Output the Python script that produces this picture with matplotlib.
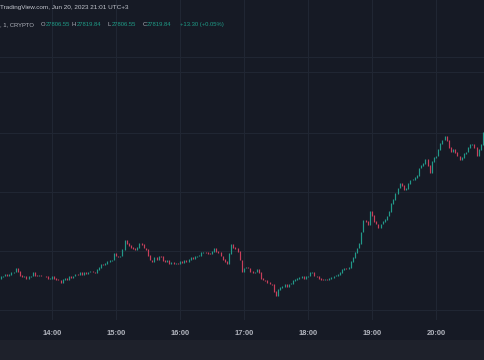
import matplotlib
matplotlib.use("Agg")
import matplotlib.pyplot as plt
from matplotlib.patches import Rectangle
import numpy as np

# ---------------- data ----------------
# 2-minute candles, minutes since 13:00 (UTC+3), starting 13:12
start_minute = 12
step_minutes = 2
first_open = 27135
closes = [
    27140, 27144, 27152, 27148, 27152, 27157, 27161, 27174, 27165, 27148,
    27140, 27144, 27135, 27140, 27144, 27157, 27148, 27144, 27148, 27144,
    27144, 27140, 27135, 27135, 27140, 27135, 27131, 27127, 27118, 27131,
    27135, 27131, 27140, 27138, 27144, 27152, 27150, 27157, 27152, 27157,
    27155, 27161, 27165, 27161, 27159, 27170, 27182, 27195, 27191, 27199,
    27204, 27208, 27212, 27238, 27229, 27225, 27229, 27255, 27293, 27284,
    27272, 27267, 27259, 27255, 27267, 27284, 27276, 27263, 27255, 27233,
    27212, 27204, 27221, 27216, 27229, 27225, 27208, 27204, 27212, 27199,
    27201, 27195, 27199, 27197, 27204, 27202, 27208, 27206, 27216, 27221,
    27219, 27225, 27229, 27233, 27242, 27246, 27242, 27240, 27238, 27250,
    27263, 27250, 27242, 27229, 27216, 27204, 27199, 27238, 27276, 27267,
    27259, 27250, 27212, 27165, 27178, 27182, 27178, 27165, 27157, 27161,
    27170, 27157, 27135, 27127, 27123, 27118, 27110, 27106, 27080, 27059,
    27085, 27097, 27101, 27106, 27101, 27110, 27114, 27123, 27131, 27135,
    27137, 27140, 27135, 27140, 27144, 27157, 27161, 27144, 27140, 27135,
    27131, 27127, 27131, 27127, 27135, 27137, 27144, 27148, 27152, 27157,
    27170, 27178, 27176, 27182, 27204, 27221, 27242, 27263, 27284, 27331,
    27382, 27374, 27361, 27420, 27403, 27374, 27365, 27352, 27365, 27374,
    27386, 27399, 27420, 27454, 27471, 27493, 27518, 27539, 27527, 27510,
    27514, 27539, 27552, 27556, 27561, 27573, 27603, 27612, 27624, 27641,
    27612, 27582, 27629, 27646, 27654, 27680, 27709, 27722, 27739, 27718,
    27692, 27675, 27680, 27667, 27654, 27637, 27646, 27663, 27671, 27692,
    27701, 27705, 27692, 27658, 27680, 27701, 27752, 27819.84,
]
time_labels = ["14:00", "15:00", "16:00", "17:00", "18:00", "19:00", "20:00"]
time_label_minutes = [60, 120, 180, 240, 300, 360, 420]
price_grid = [27000, 27250, 27500, 27750, 28012]
extra_price_line = 28075

header_line = "TradingView.com, Jun 20, 2023 21:01 UTC+3"
legend_prefix = ", 1, CRYPTO"
ohlc_labels = ["O", "H", "L", "C"]
ohlc_values = ["27806.55", "27819.84", "27806.55", "27819.84"]
change_text = "+13.30 (+0.05%)"

# ---------------- style ----------------
BG = "#161a25"
GRID = "#202633"
UP = "#22998a"
DOWN = "#c93f5b"
TXT = "#b2b5be"
LEG_GREEN = "#1f9c87"

W, H = 485, 360
fig = plt.figure(figsize=(W / 100, H / 100), dpi=100, facecolor=BG)

ax = fig.add_axes([0, 40 / H, 1, 320 / H])
ax.set_facecolor(BG)
ax.set_xlim(11.25, 465.9)
ax.set_ylim(26957, 28317)
for s in ax.spines.values():
    s.set_visible(False)

ax.set_yticks(price_grid)
ax.set_xticks(time_label_minutes)
ax.set_xticklabels(time_labels)
ax.tick_params(axis="y", left=False, labelleft=False)
ax.tick_params(axis="x", length=0, pad=7.5, labelsize=5.4, labelcolor=TXT)
for lab in ax.get_xticklabels():
    lab.set_fontfamily("Liberation Sans")
    lab.set_fontweight("bold")
ax.grid(True, color=GRID, linewidth=0.8, zorder=0)
ax.axhline(extra_price_line, color=GRID, linewidth=0.8, zorder=0)
ax.set_axisbelow(True)

closes_arr = np.array(closes, dtype=float)
opens_arr = np.concatenate([[first_open], closes_arr[:-1]])
times = start_minute + step_minutes * np.arange(len(closes_arr))
lo = np.minimum(opens_arr, closes_arr) - 2
hi = np.maximum(opens_arr, closes_arr) + 2
colors = [UP if c >= o else DOWN for o, c in zip(opens_arr, closes_arr)]
ax.vlines(times, lo, hi, colors=colors, linewidth=0.85, zorder=3)

# footer strip
fig.patches.append(Rectangle((0, 0), 1, 20 / H, transform=fig.transFigure,
                             facecolor="#1e212b", edgecolor="none", zorder=0))

# header texts
renderer = fig.canvas.get_renderer()

def fx(px):
    return px / W

def fy(py):
    return 1 - py / H

def fit_size(s, width_px):
    t = fig.text(0, 0, s, fontsize=6, family="Liberation Sans")
    w = t.get_window_extent(renderer=renderer).width
    t.remove()
    return 6 * width_px / w

def put(xpx, ypx, s, color, size):
    fig.text(fx(xpx), fy(ypx), s, color=color, fontsize=size,
             family="Liberation Sans", va="center", ha="left")

size1 = fit_size(header_line, 131)
put(0, 8, header_line, "#c3c6ce", size1)

size2 = fit_size(ohlc_values[1], 24.5)
put(0, 24.5, legend_prefix, TXT, size2)
label_x = [40.5, 71.5, 108, 142.5]
value_x = [45.5, 76.5, 112, 147]
for lbl, val, lx, vx in zip(ohlc_labels, ohlc_values, label_x, value_x):
    put(lx, 24.5, lbl, TXT, size2)
    put(vx, 24.5, val, LEG_GREEN, size2)
put(180, 24.5, change_text, LEG_GREEN, size2)

fig.savefig("out.png", dpi=100, facecolor=BG)
